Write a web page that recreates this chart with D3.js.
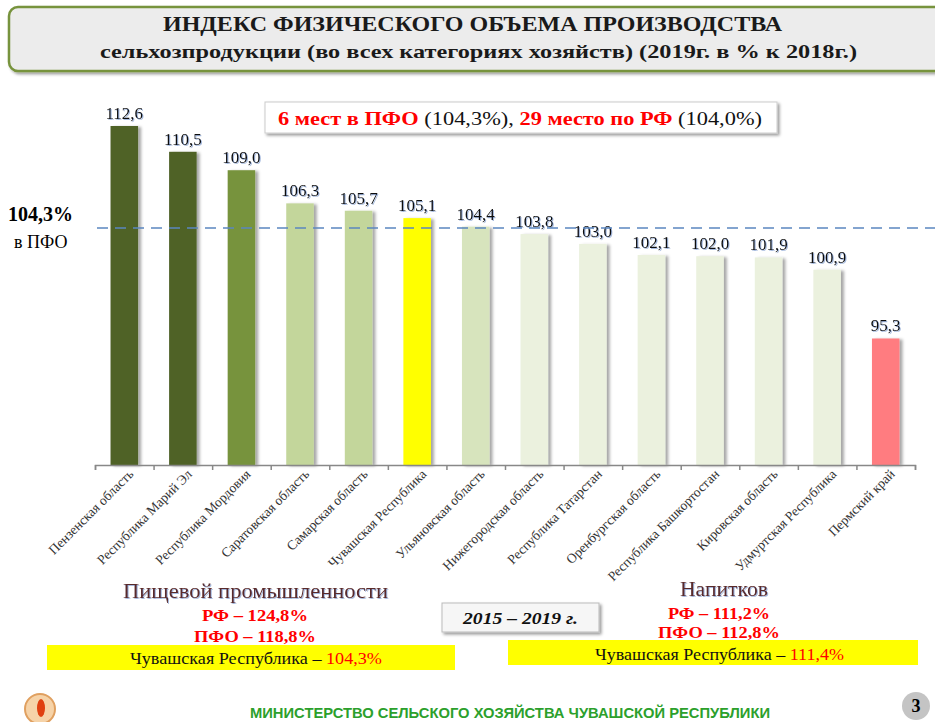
<!DOCTYPE html>
<html><head><meta charset="utf-8">
<script src="https://cdn.jsdelivr.net/npm/d3@7"></script>
<style>body{margin:0;background:#fff}svg{display:block} svg text{font-family:"Liberation Serif","Times New Roman",serif}</style>
</head><body>
<script>
const regions = ["Пензенская область","Республика Марий Эл","Республика Мордовия","Саратовская область","Самарская область","Чувашская Республика","Ульяновская область","Нижегородская область","Республика Татарстан","Оренбургская область","Республика Башкортостан","Кировская область","Удмуртская Республика","Пермский край"];
const values = [112.6,110.5,109.0,106.3,105.7,105.1,104.4,103.8,103.0,102.1,102.0,101.9,100.9,95.3];
const barColors = ["#4f6228","#4f6228","#77933c","#c3d69b","#c3d69b","#ffff00","#d7e4bd","#ebf1de","#ebf1de","#ebf1de","#ebf1de","#ebf1de","#ebf1de","#ff7c80"];
const pfoValue = 104.3;
const yDomain = [85, 112.6];

const SERIF = "Liberation Serif, serif";
const W = 935, H = 722;
const svg = d3.select("body").append("svg").attr("width", W).attr("height", H);
const defs = svg.append("defs");
const sh = defs.append("filter").attr("id","sh").attr("x","-30%").attr("y","-10%").attr("width","180%").attr("height","130%");
sh.append("feDropShadow").attr("dx",3).attr("dy",1).attr("stdDeviation",1.5).attr("flood-color","#000").attr("flood-opacity",0.35);
const sh2 = defs.append("filter").attr("id","sh2").attr("x","-10%").attr("y","-30%").attr("width","120%").attr("height","180%");
sh2.append("feDropShadow").attr("dx",2).attr("dy",2).attr("stdDeviation",1.5).attr("flood-color","#000").attr("flood-opacity",0.4);
const tsh = defs.append("filter").attr("id","tsh");
tsh.append("feDropShadow").attr("dx",1).attr("dy",1).attr("stdDeviation",0.6).attr("flood-color","#6b8cc7").attr("flood-opacity",0.6);

function fitText(g, txt, x, y, width, opts) {
  const t = g.append("text").attr("x", x).attr("y", y)
    .attr("textLength", width).attr("lengthAdjust", "spacingAndGlyphs")
    .attr("font-family", opts.family || SERIF)
    .attr("font-size", opts.size).attr("font-weight", opts.bold ? "bold" : "normal")
    .attr("fill", opts.fill || "#000");
  if (opts.italic) t.attr("font-style","italic");
  if (opts.family) t.style("font-family", opts.family);
  t.text(txt);
  return t;
}

// Title box
svg.append("rect").attr("x",9).attr("y",7).attr("width",940).attr("height",64).attr("rx",9)
  .attr("fill","#ececec").attr("stroke","#77933c").attr("stroke-width",2.5).attr("filter","url(#sh2)");
fitText(svg, "ИНДЕКС ФИЗИЧЕСКОГО ОБЪЕМА ПРОИЗВОДСТВА", 163, 31, 619, {size:22, bold:true, fill:"#1a1a1a"});
fitText(svg, "сельхозпродукции (во всех категориях хозяйств) (2019г. в  %  к 2018г.)", 100, 58, 757, {size:19, bold:true, fill:"#1a1a1a"});

// Chart
const x = d3.scaleBand().domain(regions).range([95, 915]).paddingInner(0.53).paddingOuter(0.265);
const y = d3.scaleLinear().domain(yDomain).range([465, 126]);
const xPos = d3.scalePoint().domain(d3.range(regions.length + 1)).range([95, 915]);

const g = svg.append("g");
g.selectAll("rect.bar").data(values).join("rect").attr("class","bar")
  .attr("x", (d,i) => x(regions[i])).attr("width", x.bandwidth())
  .attr("y", d => y(d)).attr("height", d => y(yDomain[0]) - y(d))
  .attr("fill", (d,i) => barColors[i]).attr("filter","url(#sh)");

// axis
const axis = d3.axisBottom(xPos).tickSize(5).tickFormat("");
const ax = g.append("g").attr("transform", `translate(0,${y(yDomain[0])})`).call(axis);
ax.select(".domain").attr("stroke","#888").attr("stroke-width",1.5);
ax.selectAll(".tick line").attr("stroke","#888").attr("stroke-width",1.5);

// x labels
g.selectAll("text.xl").data(regions).join("text").attr("class","xl")
  .attr("transform", d => `translate(${x(d) + x.bandwidth()/2 + 10},${y(yDomain[0]) + 10}) rotate(-45)`)
  .attr("text-anchor","end").attr("font-family",SERIF).attr("font-size",13.5).attr("fill","#333").text(d => d);

// value labels
g.selectAll("text.vl").data(values).join("text").attr("class","vl")
  .attr("x", (d,i) => x(regions[i]) + x.bandwidth()/2).attr("y", d => y(d) - 7)
  .attr("text-anchor","middle").attr("font-family",SERIF).attr("font-size",17).attr("fill","#111").attr("filter","url(#tsh)")
  .text(d => d.toFixed(1).replace(".", ","));

// PFO dashed line
g.append("line").attr("x1",97).attr("x2",935).attr("y1",y(pfoValue)).attr("y2",y(pfoValue))
  .attr("stroke","#5b87c0").attr("stroke-width",1.6).attr("stroke-dasharray","11,7");
svg.append("text").attr("x",8).attr("y",221).attr("font-family",SERIF).attr("font-size",20).attr("font-weight","bold").text("104,3%");
svg.append("text").attr("x",14).attr("y",248).attr("font-family",SERIF).attr("font-size",18).text("в ПФО");

// info box
svg.append("rect").attr("x",265).attr("y",102).attr("width",512).attr("height",31)
  .attr("fill","#fff").attr("stroke","#ccc").attr("filter","url(#sh2)");
const info = svg.append("text").attr("x",278).attr("y",125).attr("textLength",484).attr("lengthAdjust","spacingAndGlyphs")
  .attr("font-family",SERIF).attr("font-size",19);
info.append("tspan").attr("fill","#ff0000").attr("font-weight","bold").text("6 мест в ПФО ");
info.append("tspan").attr("fill","#111").text("(104,3%), ");
info.append("tspan").attr("fill","#ff0000").attr("font-weight","bold").text("29 место по РФ ");
info.append("tspan").attr("fill","#111").text("(104,0%)");

// Bottom left block
fitText(svg, "Пищевой промышленности", 123, 598, 265, {size:20, fill:"#5a2a2a"}).attr("filter","url(#tsh)");
fitText(svg, "РФ – 124,8%", 202, 621, 106, {size:17, bold:true, fill:"#ff0000"});
fitText(svg, "ПФО – 118,8%", 194, 642, 122, {size:17, bold:true, fill:"#ff0000"});
svg.append("rect").attr("x",47).attr("y",645).attr("width",408).attr("height",25).attr("fill","#ffff00");
const c1 = svg.append("text").attr("x",130).attr("y",664).attr("textLength",252).attr("lengthAdjust","spacingAndGlyphs")
  .attr("font-family",SERIF).attr("font-size",17);
c1.append("tspan").attr("fill","#111").text("Чувашская Республика – ");
c1.append("tspan").attr("fill","#ff0000").text("104,3%");

// Period box
svg.append("rect").attr("x",442).attr("y",603).attr("width",157).attr("height",29)
  .attr("fill","#f6f6f6").attr("stroke","#bbb").attr("filter","url(#sh2)");
fitText(svg, "2015 – 2019 г.", 463, 624, 115, {size:17, bold:true, italic:true, fill:"#111"});

// Bottom right block
fitText(svg, "Напитков", 680, 596, 88, {size:20, fill:"#5a2a2a"}).attr("filter","url(#tsh)");
fitText(svg, "РФ – 111,2%", 668, 619, 102, {size:17, bold:true, fill:"#ff0000"});
fitText(svg, "ПФО – 112,8%", 658, 638, 122, {size:17, bold:true, fill:"#ff0000"});
svg.append("rect").attr("x",508).attr("y",640).attr("width",410).attr("height",25).attr("fill","#ffff00");
const c2 = svg.append("text").attr("x",595).attr("y",660).attr("textLength",249).attr("lengthAdjust","spacingAndGlyphs")
  .attr("font-family",SERIF).attr("font-size",17);
c2.append("tspan").attr("fill","#111").text("Чувашская Республика – ");
c2.append("tspan").attr("fill","#ff0000").text("111,4%");

// Footer
svg.append("line").attr("x1",22).attr("x2",935).attr("y1",685).attr("y2",685)
  .attr("stroke","#aaa").attr("stroke-width",2.5).attr("filter","url(#sh2)");
svg.append("circle").attr("cx",40).attr("cy",709).attr("r",15).attr("fill","#f6d3a8").attr("stroke","#e0a060").attr("stroke-width",2);
svg.append("ellipse").attr("cx",41).attr("cy",708).attr("rx",4).attr("ry",9).attr("fill","#e04010");
fitText(svg, "МИНИСТЕРСТВО СЕЛЬСКОГО ХОЗЯЙСТВА ЧУВАШСКОЙ РЕСПУБЛИКИ", 250, 718, 520, {size:15, bold:true, fill:"#2ca02c", family:"Liberation Sans Narrow, Liberation Sans, sans-serif"});
svg.append("circle").attr("cx",916).attr("cy",706).attr("r",14).attr("fill","#c4c4c4");
svg.append("text").attr("x",916).attr("y",712).attr("text-anchor","middle").attr("font-family",SERIF).attr("font-size",18).attr("font-weight","bold").text("3");
</script>
</body></html>
